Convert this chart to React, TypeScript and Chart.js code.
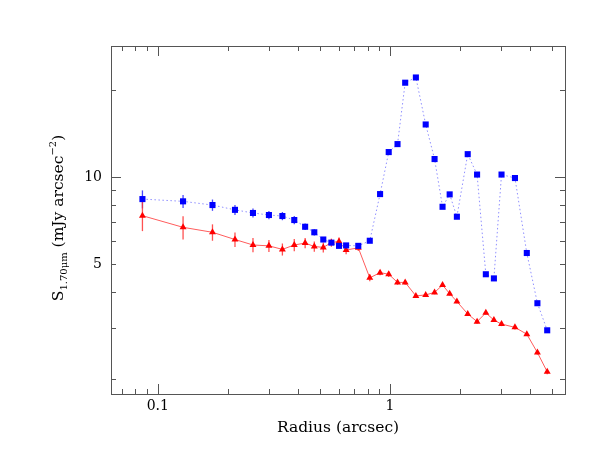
import React, { useEffect, useRef } from "react";
import { Chart, registerables } from "chart.js";
Chart.register(...registerables);

const radius = [0.0859, 0.1285, 0.172, 0.215, 0.257, 0.301, 0.344, 0.387, 0.431, 0.472, 0.516, 0.559, 0.603, 0.647, 0.730, 0.818, 0.906, 0.987, 1.077, 1.162, 1.292, 1.424, 1.555, 1.683, 1.806, 1.94, 2.16, 2.37, 2.585, 2.80, 3.02, 3.45, 3.88, 4.31, 4.75];
const blueFlux = [8.39, 8.24, 8.0, 7.70, 7.51, 7.39, 7.33, 7.10, 6.73, 6.44, 6.08, 5.93, 5.78, 5.80, 5.78, 6.02, 8.73, 12.2, 13.0, 21.2, 22.1, 15.2, 11.54, 7.89, 8.71, 7.29, 12.0, 10.2, 4.61, 4.46, 10.2, 9.92, 5.46, 3.66, 2.95];
const blueErr = [0.6, 0.42, 0.36, 0.31, 0.27, 0.24, 0.24, 0.23, 0.17, 0.16, 0.12, 0.1, 0.1, 0.08, 0.08, 0.08, 0.08, 0.08, 0.08, 0.08, 0.08, 0.08, 0.08, 0.06, 0.06, 0.06, 0.06, 0.06, 0.05, 0.05, 0.05, 0.05, 0.05, 0.05, 0.05];
const redFlux = [7.35, 6.70, 6.44, 6.08, 5.82, 5.78, 5.62, 5.82, 5.91, 5.75, 5.71, 5.93, 5.99, 5.59, 5.69, 4.48, 4.67, 4.61, 4.32, 4.32, 3.88, 3.91, 3.99, 4.23, 3.95, 3.71, 3.36, 3.16, 3.39, 3.20, 3.10, 3.02, 2.86, 2.47, 2.12];
const redErr = [0.85, 0.62, 0.42, 0.35, 0.33, 0.28, 0.27, 0.28, 0.24, 0.23, 0.23, 0.19, 0.19, 0.18, 0.14, 0.12, 0.1, 0.1, 0.08, 0.08, 0.06, 0.06, 0.06, 0.06, 0.06, 0.05, 0.05, 0.05, 0.05, 0.05, 0.05, 0.05, 0.04, 0.04, 0.04];

const xTickValues = [0.07, 0.08, 0.09, 0.1, 0.2, 0.3, 0.4, 0.5, 0.6, 0.7, 0.8, 0.9, 1, 2, 3, 4, 5];
const xMajorTicks = [0.1, 1];
const xTickLabels = ["0.1", "1"];
const yTickValues = [2, 3, 4, 5, 6, 7, 8, 9, 10, 20];
const yMajorTicks = [10];
const yLabelValues = [5, 10];
const yTickLabels = ["5", "10"];

const FONT = "'DejaVu Serif', 'Liberation Serif', serif";

const customPlugin = {
  id: "customDraw",
  beforeDatasetsDraw(chart: any) {
    const ctx = chart.ctx;
    const xs = chart.scales.x;
    const ys = chart.scales.y;
    const bars = [
      { flux: blueFlux, err: blueErr, color: "rgba(40,40,255,0.85)" },
      { flux: redFlux, err: redErr, color: "rgba(255,50,50,0.85)" },
    ];
    ctx.save();
    ctx.lineWidth = 1.3;
    bars.forEach((b) => {
      ctx.strokeStyle = b.color;
      radius.forEach((r, i) => {
        const px = xs.getPixelForValue(r);
        const y1 = ys.getPixelForValue(b.flux[i] - b.err[i]);
        const y2 = ys.getPixelForValue(b.flux[i] + b.err[i]);
        ctx.beginPath();
        ctx.moveTo(px, y1);
        ctx.lineTo(px, y2);
        ctx.stroke();
      });
    });
    ctx.restore();
  },
  afterDraw(chart: any) {
    const ctx = chart.ctx;
    const a = chart.chartArea;
    const xs = chart.scales.x;
    const ys = chart.scales.y;
    ctx.save();
    ctx.strokeStyle = "#555";
    ctx.lineWidth = 1;
    ctx.strokeRect(Math.round(a.left) + 0.5, Math.round(a.top) + 0.5, Math.round(a.right - a.left), Math.round(a.bottom - a.top));
    ctx.beginPath();
    xTickValues.forEach((v) => {
      const px = Math.round(xs.getPixelForValue(v)) + 0.5;
      const len = xMajorTicks.includes(v) ? 10 : 5;
      ctx.moveTo(px, a.bottom);
      ctx.lineTo(px, a.bottom - len);
      ctx.moveTo(px, a.top);
      ctx.lineTo(px, a.top + len);
    });
    yTickValues.forEach((v) => {
      const py = Math.round(ys.getPixelForValue(v)) + 0.5;
      const len = yMajorTicks.includes(v) ? 10 : 5;
      ctx.moveTo(a.left, py);
      ctx.lineTo(a.left + len, py);
      ctx.moveTo(a.right, py);
      ctx.lineTo(a.right - len, py);
    });
    ctx.stroke();

    // x title
    ctx.fillStyle = "#000";
    ctx.font = `15.5px ${FONT}`;
    ctx.textAlign = "center";
    ctx.textBaseline = "middle";
    ctx.fillText("Radius (arcsec)", (a.left + a.right) / 2, 428);

    // y title with sub/superscripts
    const parts = [
      { t: "S", size: 15.5, dy: 0 },
      { t: "1.70\u03bcm", size: 10, dy: 4 },
      { t: " (mJy arcsec", size: 15.5, dy: 0 },
      { t: "\u22122", size: 10, dy: -7 },
      { t: ")", size: 15.5, dy: 0 },
    ];
    let total = 0;
    const widths = parts.map((p) => {
      ctx.font = `${p.size}px ${FONT}`;
      const w = ctx.measureText(p.t).width;
      total += w;
      return w;
    });
    ctx.translate(58, (a.top + a.bottom) / 2 - 2);
    ctx.rotate(-Math.PI / 2);
    ctx.textAlign = "left";
    ctx.textBaseline = "alphabetic";
    let x = -total / 2;
    parts.forEach((p, i) => {
      ctx.font = `${p.size}px ${FONT}`;
      ctx.fillText(p.t, x, 5 + p.dy);
      x += widths[i];
    });
    ctx.restore();
  },
};

export default function App() {
  const ref = useRef<HTMLCanvasElement | null>(null);
  useEffect(() => {
    if (!ref.current) return;
    const chart = new Chart(ref.current, {
      type: "line",
      data: {
        datasets: [
          {
            label: "blue",
            data: radius.map((r, i) => ({ x: r, y: blueFlux[i] })),
            borderColor: "#8f8fff",
            borderWidth: 1,
            borderDash: [1.5, 2.5],
            pointStyle: "rect",
            pointRadius: 4.3,
            pointBackgroundColor: "#0000ff",
            pointBorderColor: "#0000ff",
            pointBorderWidth: 0,
            fill: false,
          },
          {
            label: "red",
            data: radius.map((r, i) => ({ x: r, y: redFlux[i] })),
            borderColor: "#ff5c5c",
            borderWidth: 1,
            pointStyle: "triangle",
            pointRadius: 4,
            pointBackgroundColor: "#ff0000",
            pointBorderColor: "#ff0000",
            pointBorderWidth: 0,
            fill: false,
          },
        ],
      },
      options: {
        animation: false,
        responsive: false,
        layout: { padding: { left: 0, top: 46, right: 48, bottom: 0 } },
        plugins: { legend: { display: false }, tooltip: { enabled: false } },
        scales: {
          x: {
            type: "logarithmic",
            min: 0.0629,
            max: 5.666,
            grid: { display: false, drawTicks: false },
            border: { display: false },
            afterBuildTicks: (s: any) => {
              s.ticks = xTickValues.map((v) => ({ value: v }));
            },
            afterFit: (s: any) => {
              s.height = 69;
            },
            ticks: {
              autoSkip: false,
              maxRotation: 0,
              padding: 4,
              color: "#000",
              font: { family: FONT, size: 14 },
              callback: (v: any) => {
                const i = xMajorTicks.indexOf(Number(v));
                return i >= 0 ? xTickLabels[i] : "";
              },
            },
          },
          y: {
            type: "logarithmic",
            min: 1.776,
            max: 28.4,
            grid: { display: false, drawTicks: false },
            border: { display: false },
            afterBuildTicks: (s: any) => {
              s.ticks = yTickValues.map((v) => ({ value: v }));
            },
            afterFit: (s: any) => {
              s.width = 111;
            },
            ticks: {
              autoSkip: false,
              padding: 9,
              color: "#000",
              font: { family: FONT, size: 14 },
              callback: (v: any) => {
                const i = yLabelValues.indexOf(Number(v));
                return i >= 0 ? yTickLabels[i] : "";
              },
            },
          },
        },
      },
      plugins: [customPlugin],
    } as any);
    return () => chart.destroy();
  }, []);
  return (
    <div style={{ position: "absolute", left: 0, top: 0, width: 613, height: 463, background: "#fff" }}>
      <canvas ref={ref} width={613} height={463} style={{ width: 613, height: 463 }} />
    </div>
  );
}
